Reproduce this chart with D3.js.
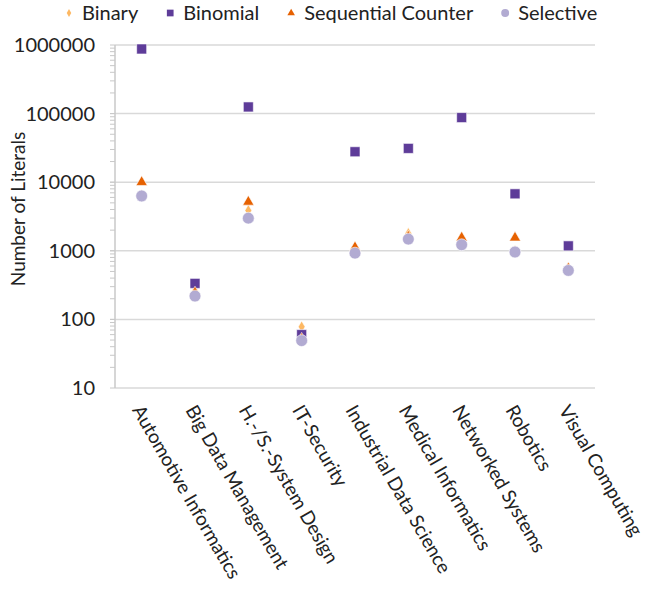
<!DOCTYPE html>
<html>
<head>
<meta charset="utf-8">
<script src="https://cdn.jsdelivr.net/npm/d3@7"></script>
<style>
  body { margin: 0; background: #fff; }
  svg { font-family: Lato, "Open Sans", sans-serif; }
</style>
</head>
<body>
<svg id="chart" width="649" height="600"></svg>
<script>
const categories = [
  "Automotive Informatics", "Big Data Management", "H.-/S.-System Design",
  "IT-Security", "Industrial Data Science", "Medical Informatics",
  "Networked Systems", "Robotics", "Visual Computing"
];
const binary = [6500, 260, 3870, 78, 1000, 1790, 1300, 1000, 560];
const binomial = [875000, 335, 125000, 60, 27800, 31100, 87500, 6770, 1180];
const sequential = [10000, 245, 5160, 52, 1120, 1600, 1550, 1550, 550];
const selective = [6300, 219, 2990, 49, 925, 1480, 1225, 960, 517];
const yTicks = [10, 100, 1000, 10000, 100000, 1000000];

const series = [
  { name: "Binary", values: binary, color: "#fdb863", shape: d3.symbolDiamond, size: 40 },
  { name: "Binomial", values: binomial, color: "#5e3c99", shape: d3.symbolSquare, size: 100 },
  { name: "Sequential Counter", values: sequential, color: "#e66101", shape: d3.symbolTriangle, size: 55 },
  { name: "Selective", values: selective, color: "#b2abd2", shape: d3.symbolCircle, size: 110 }
];

const mLeft = 115, mRight = 595, mTop = 45, mBottom = 388;
const svg = d3.select("#chart");

const x = d3.scaleBand().domain(categories).range([mLeft, mRight]);
const y = d3.scaleLog().domain([10, 1000000]).range([mBottom, mTop]);

// minor ticks
const minor = [];
for (let p = 10; p < 1000000; p *= 10) {
  for (let k = 1; k <= 10; k++) minor.push(p * k);
}
svg.append("g")
  .selectAll("line")
  .data(minor)
  .join("line")
  .attr("x1", mLeft - 5).attr("x2", mLeft)
  .attr("y1", d => y(d)).attr("y2", d => y(d))
  .attr("stroke", "#c8c8c8").attr("stroke-width", 1);

// gridlines
svg.append("g")
  .selectAll("line")
  .data(yTicks)
  .join("line")
  .attr("x1", mLeft).attr("x2", mRight)
  .attr("y1", d => y(d)).attr("y2", d => y(d))
  .attr("stroke", "#d9d9d9").attr("stroke-width", 1.5);

svg.append("line")
  .attr("x1", mLeft).attr("x2", mLeft)
  .attr("y1", mTop).attr("y2", mBottom)
  .attr("stroke", "#c8c8c8").attr("stroke-width", 1.5);

const yAxis = d3.axisLeft(y).tickValues(yTicks).tickFormat(d3.format("d")).tickSize(0).tickPadding(20);
svg.append("g")
  .attr("transform", `translate(${mLeft},0)`)
  .call(yAxis)
  .call(g => g.select(".domain").remove())
  .selectAll("text")
  .attr("font-size", 20)
  .attr("font-family", "Lato")
  .attr("fill", "#222");

svg.append("text")
  .attr("transform", "translate(25,209) rotate(-90)")
  .attr("text-anchor", "middle")
  .attr("font-size", 19)
  .attr("fill", "#222")
  .text("Number of Literals");

// x labels
svg.append("g")
  .selectAll("text")
  .data(categories)
  .join("text")
  .attr("transform", d => `translate(${x(d) + x.bandwidth() / 2 - 10},${mBottom + 22}) rotate(60)`)
  .attr("text-anchor", "start")
  .attr("font-size", 19)
  .attr("fill", "#222")
  .text(d => d);

// points
series.forEach(s => {
  svg.append("g")
    .selectAll("path")
    .data(s.values)
    .join("path")
    .attr("d", d3.symbol().type(s.shape).size(s.size))
    .attr("transform", (d, i) => `translate(${x(categories[i]) + x.bandwidth() / 2},${y(d)})`)
    .attr("fill", s.color)
    .attr("stroke", "#fff")
    .attr("stroke-width", 0.6);
});

// legend
const legend = svg.append("g").attr("transform", "translate(0,13)");
let lx = 69;
series.forEach(s => {
  const item = legend.append("g").attr("transform", `translate(${lx},0)`);
  item.append("path")
    .attr("d", d3.symbol().type(s.shape).size(s.size * 0.45))
    .attr("fill", s.color);
  const t = item.append("text")
    .attr("x", 13).attr("dy", "0.35em")
    .attr("font-size", 20)
    .attr("fill", "#222")
    .text(s.name);
  lx += 13 + t.node().getComputedTextLength() + 32;
});
</script>
</body>
</html>
